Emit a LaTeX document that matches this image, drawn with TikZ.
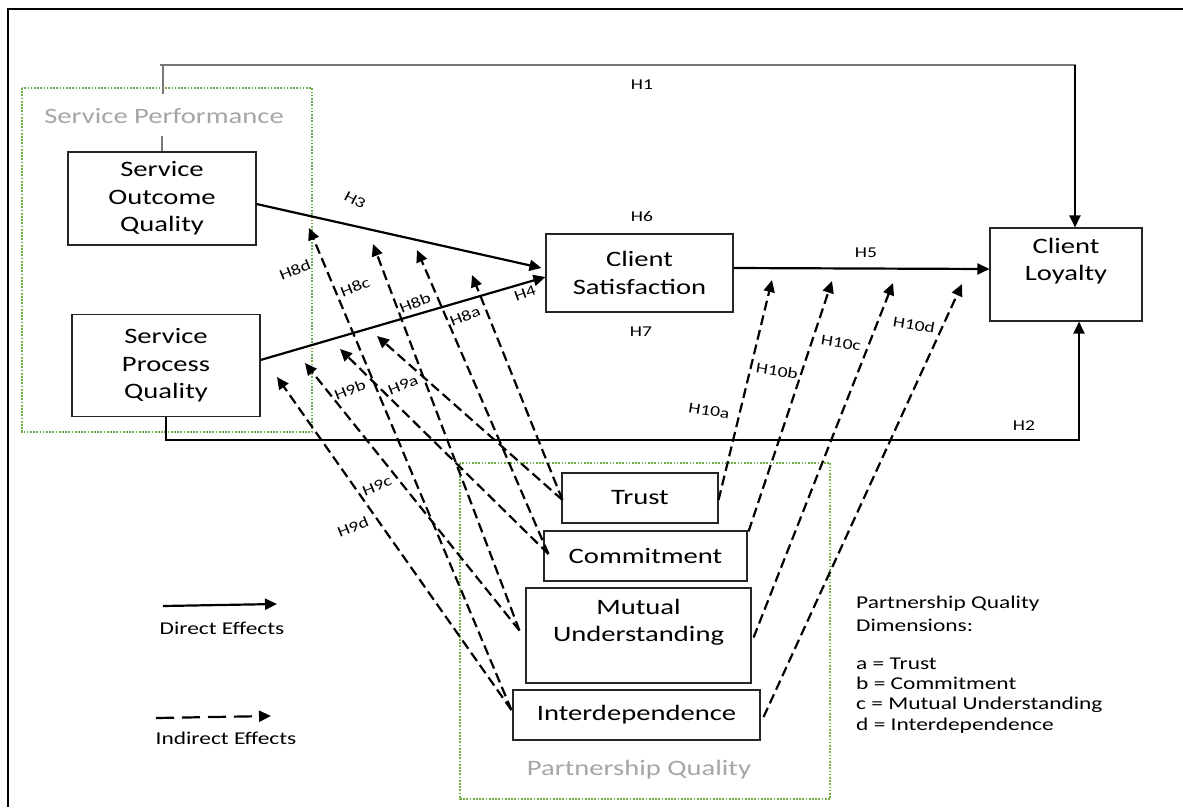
\documentclass[tikz,border=0pt]{standalone}
\usepackage{fontspec}
\setmainfont{Carlito}[FakeStretch=1.3]
\usetikzlibrary{arrows.meta,calc}
\definecolor{grpgreen}{RGB}{112,173,71}
\definecolor{lblgray}{RGB}{166,166,166}
\definecolor{linegray}{RGB}{120,120,120}
\tikzset{
  box/.style={draw=black!85, line width=1.1pt, fill=white, inner sep=0pt, align=center, font=\fontsize{22}{27.5}\selectfont},
  grp/.style={draw=grpgreen, line width=1.7pt, dash pattern=on 1.7pt off 1.5pt},
  grplabel/.style={text=lblgray, font=\fontsize{22}{26}\selectfont, inner sep=0pt},
  hlab/.style={font=\fontsize{15}{18}\selectfont, inner sep=0pt},
  direct/.style={line width=2.2pt, -{Triangle[length=12pt,width=11pt]}},
  indirect/.style={line width=2.2pt, dash pattern=on 10pt off 5pt, -{Triangle[length=12pt,width=11pt]}},
  legindirect/.style={line width=2.2pt, dash pattern=on 18pt off 8pt, -{Triangle[length=12pt,width=11pt]}},
  legtext/.style={font=\fontsize{18}{22}\selectfont, inner sep=0pt},
  thinline/.style={line width=1.2pt},
}
\begin{document}
\begin{tikzpicture}[x=1pt,y=-1pt]
\useasboundingbox (0,0) rectangle (1183,807);
\fill[white] (0,0) rectangle (1183,807);
% frame
\draw[line width=2.8pt] (8,807) -- (8,9) -- (1183,9);
% group boxes
\draw[grp] (22,88) rectangle (312,432);
\draw[grp] (460,463) rectangle (830,799);
\node[grplabel] (gSP) at (164,116) {Service Performance};
\node[grplabel] (gPQ) at (639,770) {Partnership Quality};
% construct boxes
\node[box, minimum width=188pt, minimum height=93pt] (SOQ) at (162,198.5) {Service\\Outcome\\Quality};
\node[box, minimum width=188pt, minimum height=102pt] (SPQ) at (166,365.5) {Service\\Process\\Quality};
\node[box, minimum width=187pt, minimum height=78pt] (CS) at (639.5,273) {Client\\Satisfaction};
\node[box, minimum width=152pt, minimum height=93pt] (CL) at (1066,274.5) {Client\\Loyalty\\[-5pt]\strut};
\node[box, minimum width=156pt, minimum height=50pt] (Trust) at (640,498) {Trust};
\node[box, minimum width=203pt, minimum height=50pt] (Com) at (645.5,556) {Commitment};
\node[box, minimum width=225pt, minimum height=95pt] (MU) at (638.5,635.5) {Mutual\\Understanding\\[-5pt]\strut};
\node[box, minimum width=247pt, minimum height=50pt] (Int) at (636.5,715) {Interdependence};
% H1
\draw[linegray, thinline] (SOQ.north) -- ++(0,-15);
\draw[linegray, thinline] (163,94) -- (163,66);
\draw[linegray, thinline] (160,65) -- (1076,65);
\coordinate (h1r) at (1075,65);
\draw[direct] (h1r) -- (h1r |- CL.north);
% H2
\coordinate (h2y) at (0,440);
\draw[thinline] (SPQ.south) -- (SPQ.south |- h2y) -- (1080,440);
\coordinate (h2r) at (1079,440);
\draw[direct] (h2r) -- (h2r |- CL.south);
% H3, H4, H5
\draw[direct] ($(SOQ.east)+(0,5.5)$) -- ($(CS.west)+(-4,-5)$);
\draw[direct] ($(SPQ.east)+(0,-5.5)$) -- ($(CS.west)+(0,4)$);
\draw[direct] ($(CS.east)+(0,-5)$) -- ($(CL.west)+(0,-5.5)$);
% moderator tips
\coordinate (t8a) at (472,275);
\coordinate (t8b) at (417,250);
\coordinate (t8c) at (373,244);
\coordinate (t8d) at (309,228);
\coordinate (t9a) at (377,336);
\coordinate (t9b) at (340,349);
\coordinate (t9c) at (305,363);
\coordinate (t9d) at (277,377);
\coordinate (t10a) at (772,280);
\coordinate (t10b) at (832,281);
\coordinate (t10c) at (893,283);
\coordinate (t10d) at (962,284);
% H8 / H9
\draw[indirect] ($(Trust.west)+(1,2)$) -- (t8a);
\draw[indirect] ($(Trust.west)+(1,2)$) -- (t9a);
\draw[indirect] ($(Com.west)+(5,-2)$) -- (t8b);
\draw[indirect] ($(Com.west)+(5,-2)$) -- (t9b);
\draw[indirect] ($(MU.west)+(-6,-5)$) -- (t8c);
\draw[indirect] ($(MU.west)+(-6,-5)$) -- (t9c);
\draw[indirect] ($(Int.west)+(-1,-5)$) -- (t8d);
\draw[indirect] ($(Int.west)+(-1,-5)$) -- (t9d);
% H10
\draw[indirect] ($(Trust.east)+(0,2)$) -- (t10a);
\draw[indirect] ($(Com.north east)+(1,1)$) -- (t10b);
\draw[indirect] ($(MU.east)+(2,2)$) -- (t10c);
\draw[indirect] ($(Int.east)+(3,2)$) -- (t10d);
% labels
\node[hlab] (lH1) at (642,85) {H1};
\node[hlab] (lH2) at (1024,426) {H2};
\node[hlab, rotate=-28] (lH3) at (355,200) {H3};
\node[hlab, rotate=20] (lH4) at (525,293) {H4};
\node[hlab] (lH5) at (866,253) {H5};
\node[hlab] (lH6) at (642,216) {H6};
\node[hlab] (lH7) at (641,332) {H7};
\node[hlab, rotate=22] (lH8d) at (295,270) {H8d};
\node[hlab, rotate=22] (lH8c) at (355,287) {H8c};
\node[hlab, rotate=22] (lH8b) at (415,303) {H8b};
\node[hlab, rotate=22] (lH8a) at (465,316) {H8a};
\node[hlab, rotate=22] (lH9b) at (350,390) {H9b};
\node[hlab, rotate=22] (lH9a) at (403,385) {H9a};
\node[hlab, rotate=22] (lH9c) at (377,486) {H9c};
\node[hlab, rotate=22] (lH9d) at (353,527) {H9d};
\node[hlab, rotate=-9] (lH10a) at (709,411) {H10a};
\node[hlab, rotate=-9] (lH10b) at (777,371) {H10b};
\node[hlab, rotate=-9] (lH10c) at (841,343) {H10c};
\node[hlab, rotate=-9] (lH10d) at (914,325) {H10d};
% legend
\coordinate (ld1) at (163,606);
\coordinate (ld2) at (277,604);
\draw[direct] (ld1) -- (ld2);
\node[legtext] (lDir) at (222,628) {Direct Effects};
\coordinate (li1) at (156,718);
\coordinate (li2) at (271,716);
\draw[legindirect] (li1) -- (li2);
\node[legtext] (lInd) at (226,738) {Indirect Effects};
\node[legtext, anchor=base west] (k1) at (856,608) {Partnership Quality};
\node[legtext, anchor=base west] (k2) at (856,631) {Dimensions:};
\node[legtext, anchor=base west] (k3) at (856,669) {a = Trust};
\node[legtext, anchor=base west] (k4) at (856,689) {b = Commitment};
\node[legtext, anchor=base west] (k5) at (856,709) {c = Mutual Understanding};
\node[legtext, anchor=base west] (k6) at (856,730) {d = Interdependence};
\end{tikzpicture}
\end{document}
